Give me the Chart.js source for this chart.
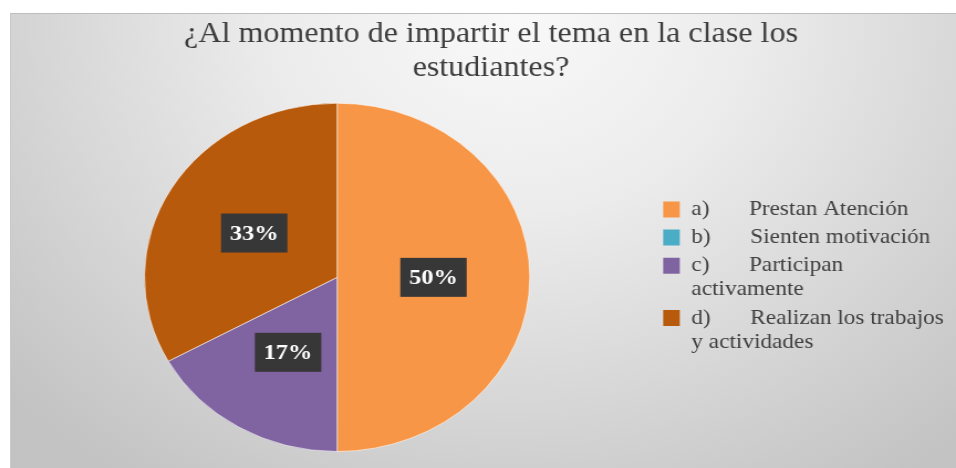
<!doctype html>
<html>

<head>
    <title>Temas en clase</title>
    <script src="https://cdn.jsdelivr.net/npm/chart.js"></script>
    <style>
        html, body { margin: 0; padding: 0; width: 956px; height: 468px; overflow: hidden; background: #fff; }
        #fondo {
            position: absolute; left: 10px; top: 13px; width: 960px; height: 470px;
            border-top: 1px solid #bdbdbd; border-left: 1px solid #c9c9c9;
            background: radial-gradient(ellipse 70% 120% at 52% 0%, #f9f9f9 0%, #ececec 35%, #d6d6d6 70%, #c3c3c3 100%);
        }
        /* la imagen original esta estirada a lo ancho */
        #caja {
            position: absolute; left: 0; top: 0; width: 880px; height: 468px;
            transform: scaleX(1.1065); transform-origin: 0 0;
        }
    </style>
</head>

<body>
    <div id="fondo"></div>
    <div id="caja">
        <canvas id="grafico"></canvas>
    </div>

    <script>
        // datos
        const titulo = ['¿Al momento de impartir el tema en la clase los', 'estudiantes?'];
        const opciones = [
            ['a)      \u2009Prestan Atención'],
            ['b)      \u2009Sienten motivación'],
            ['c)      \u2009Participan', 'activamente'],
            ['d)      \u2009Realizan los trabajos  ', 'y actividades']
        ];
        const porcentajes = [50, 0, 17, 33];
        const colores = ['#F79646', '#4BACC6', '#8064A2', '#B85A0C'];

        // etiquetas con fondo oscuro en el centro de cada sector
        const etiquetas = {
            id: 'etiquetas',
            afterDatasetsDraw(chart) {
                const ctx = chart.ctx;
                const meta = chart.getDatasetMeta(0);
                ctx.save();
                ctx.font = 'bold 22px "Liberation Serif"';
                ctx.textAlign = 'center';
                ctx.textBaseline = 'middle';
                meta.data.forEach((arco, i) => {
                    const valor = chart.data.datasets[0].data[i];
                    if (!valor) return;
                    const p = arco.getCenterPoint();
                    const texto = valor + '%';
                    const w = ctx.measureText(texto).width + 16;
                    const h = 39;
                    ctx.fillStyle = '#373737';
                    ctx.fillRect(p.x - w / 2, p.y - h / 2, w, h);
                    ctx.fillStyle = '#ffffff';
                    ctx.fillText(texto, p.x, p.y + 1);
                });
                ctx.restore();
            }
        };

        var grafico = new Chart(document.getElementById('grafico').getContext('2d'), {
            type: 'pie',
            data: {
                labels: opciones,
                datasets: [{
                    data: porcentajes,
                    backgroundColor: colores,
                    borderColor: 'rgba(255,255,255,0.55)',
                    borderWidth: 1
                }]
            },
            options: {
                responsive: true,
                maintainAspectRatio: false,
                animation: false,
                events: [],
                layout: {
                    padding: { left: 14, right: 6.5, top: 0, bottom: 16 }
                },
                plugins: {
                    title: {
                        display: true,
                        text: titulo,
                        color: '#3d3d3d',
                        font: { family: 'Liberation Serif', size: 29, weight: 'normal', lineHeight: 1.15 },
                        padding: { top: 18, bottom: 18 }
                    },
                    legend: {
                        position: 'right',
                        fullSize: false,
                        labels: {
                            color: '#404040',
                            font: { family: 'Liberation Serif', size: 21, lineHeight: 1.15 },
                            boxWidth: 15,
                            boxHeight: 16,
                            padding: 4,
                            generateLabels(chart) {
                                const ds = chart.data.datasets[0];
                                return chart.data.labels.map((l, i) => ({
                                    text: l,
                                    fillStyle: ds.backgroundColor[i],
                                    strokeStyle: ds.backgroundColor[i],
                                    lineWidth: 0,
                                    fontColor: '#404040',
                                    hidden: false,
                                    index: i
                                }));
                            }
                        }
                    },
                    tooltip: { enabled: false }
                }
            },
            plugins: [etiquetas]
        });
    </script>
</body>

</html>
